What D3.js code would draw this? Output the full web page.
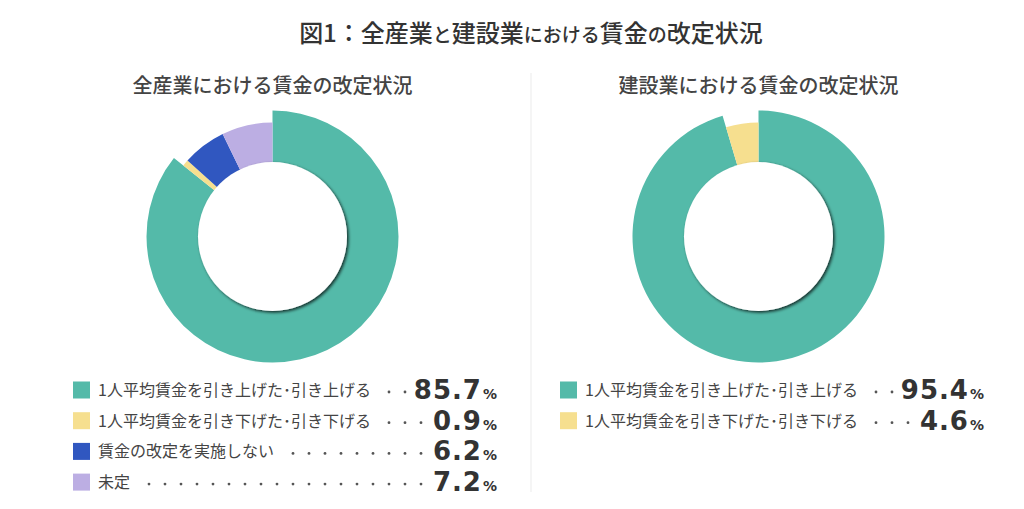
<!DOCTYPE html>
<html><head><meta charset="utf-8">
<script src="https://cdn.jsdelivr.net/npm/d3@7"></script>
<style>
html,body{margin:0;padding:0;background:#fff;}
svg{display:block;}
</style></head>
<body>
<svg id="c" width="1024" height="509"></svg>
<script>
const titleParts = [["図1：全産業", 1], ["と", 0], ["建設業", 1], ["における", 0], ["賃金", 1], ["の", 0], ["改定状況", 1]];
const subtitleAll = "全産業における賃金の改定状況";
const subtitleCon = "建設業における賃金の改定状況";
const categoriesAll = ["1人平均賃金を引き上げた･引き上げる", "1人平均賃金を引き下げた･引き下げる", "賃金の改定を実施しない", "未定"];
const valuesAll = [85.7, 0.9, 6.2, 7.2];
const categoriesCon = ["1人平均賃金を引き上げた･引き上げる", "1人平均賃金を引き下げた･引き下げる"];
const valuesCon = [95.4, 4.6];
const colors = ["#54BAA9", "#F6DF8F", "#3057C0", "#BCAEE3"];

const svg = d3.select("#c");
const defs = svg.append("defs");
const f = defs.append("filter").attr("id","sh").attr("x","-20%").attr("y","-20%").attr("width","150%").attr("height","150%");
f.append("feDropShadow").attr("dx",1.6).attr("dy",1.6).attr("stdDeviation",1.4).attr("flood-color","#000").attr("flood-opacity",0.75);

// Title
const t = svg.append("text").attr("x", 531).attr("y", 42).attr("text-anchor","middle")
  .attr("font-family","'Noto Sans CJK JP'").attr("font-weight",500).attr("fill","#333");
t.selectAll("tspan").data(titleParts).join("tspan")
  .attr("font-size", d => d[1] ? 24 : 19).text(d => d[0]);

// divider
svg.append("line").attr("x1",531).attr("x2",531).attr("y1",73).attr("y2",492)
  .attr("stroke","#ebebeb").attr("stroke-width",1);

function donut(cx, cy, sub, cats, vals, dx) {
  const g = svg.append("g");
  g.append("text").attr("x", cx).attr("y", 93).attr("text-anchor","middle")
    .attr("font-family","'Noto Sans CJK JP'").attr("font-weight",500).attr("font-size",20)
    .attr("fill","#444").text(sub);
  const pie = d3.pie().sort(null).value(d => d)(vals);
  const arcMain = d3.arc().innerRadius(70).outerRadius(126);
  const arcOther = d3.arc().innerRadius(70).outerRadius(114);
  const pg = g.append("g").attr("transform", `translate(${cx},${cy})`);
  pg.selectAll("path").data(pie).join("path")
    .attr("d", (d,i) => i === 0 ? arcMain(d) : arcOther(d))
    .attr("fill", (d,i) => colors[i]);
  pg.append("circle").attr("r", 74.5).attr("fill","#fff").attr("filter","url(#sh)");

  // legend
  const rowY = d3.scalePoint().domain(d3.range(cats.length)).range([390, 390 + 30.7*(cats.length-1)]);
  const numEnd = 497 + dx;
  cats.forEach((c, i) => {
    const y = rowY(i);
    g.append("rect").attr("x", 73 + dx).attr("y", y - 8.5).attr("width", 17).attr("height", 17).attr("fill", colors[i]);
    const tx = g.append("text").attr("x", 98 + dx).attr("y", y + 6)
      .attr("font-family","'Noto Sans CJK JP'").attr("font-size",16).attr("fill","#444").text(c);
    const num = g.append("text").attr("x", numEnd).attr("y", y + 9).attr("text-anchor","end")
      .attr("font-family","'DejaVu Sans'").attr("font-weight",700).attr("fill","#333");
    num.append("tspan").attr("font-size",26).attr("letter-spacing",1).text(d3.format(".1f")(vals[i]));
    num.append("tspan").attr("font-size",14).attr("dx",1).text("%");
    const tEnd = tx.node().getBBox().x + tx.node().getBBox().width;
    const nStart = num.node().getBBox().x;
    const dots = d3.range(-20, 20).map(x => 389 + dx + 16*x).filter(x => x >= tEnd + 12 && x <= nStart - 8);
    g.selectAll(null).data(dots).join("circle").attr("cx", x => x).attr("cy", y + 2).attr("r", 1.4).attr("fill","#555");
  });
}
donut(272.5, 236.5, subtitleAll, categoriesAll, valuesAll, 0);
donut(758.5, 236.5, subtitleCon, categoriesCon, valuesCon, 487);
</script>
</body></html>
